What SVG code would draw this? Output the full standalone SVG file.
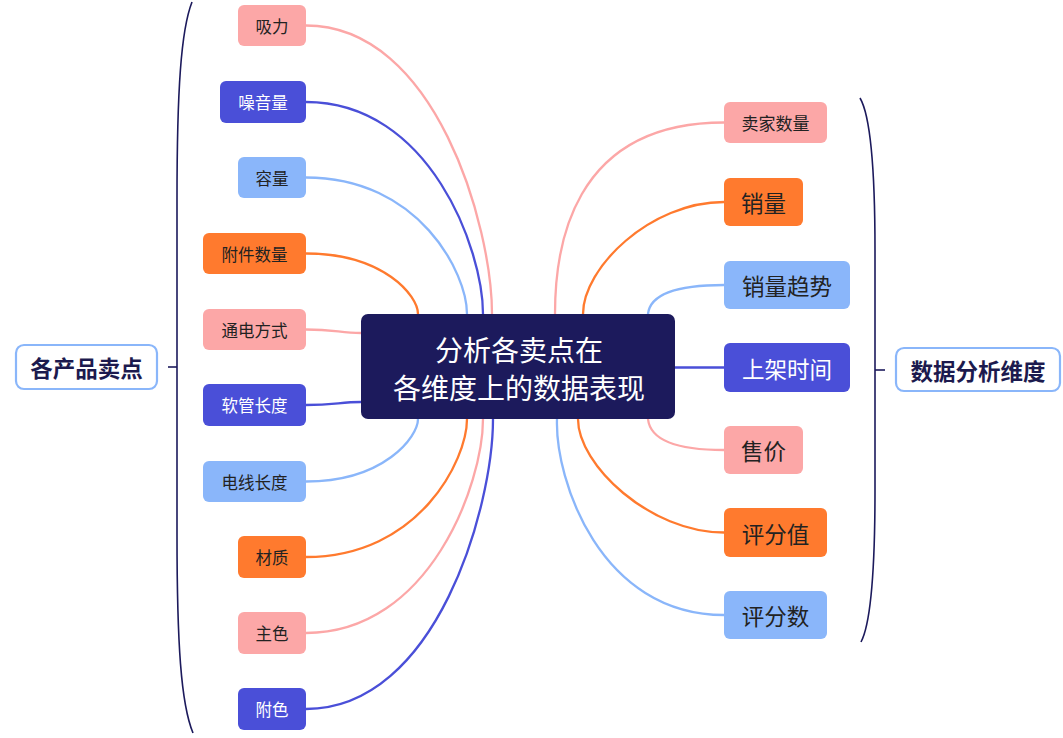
<svg xmlns="http://www.w3.org/2000/svg" width="1063" height="738" viewBox="0 0 1063 738">
<style>
text{font-family:"Noto Sans CJK SC","Noto Sans",sans-serif;text-anchor:middle;dominant-baseline:central}
.pk{fill:#FCA7A7}.db{fill:#4A4FD8}.lb{fill:#8AB6FA}.or{fill:#FF7A2E}
.tl{fill:#222}.tw{fill:#fff}
.s{font-size:16.5px}.m{font-size:22.5px}
.c{fill:none;stroke-width:2.3;stroke-linecap:round}
.cpk{stroke:#FCA7A7}.cdb{stroke:#4A4FD8}.clb{stroke:#8AB6FA}.cor{stroke:#FF7A2E}
.br{fill:none;stroke:#1C1A5C;stroke-width:1.6}
.root{fill:#fff;stroke:#8AB6FA;stroke-width:2.2}
.rt{font-size:22.5px;font-weight:bold;fill:#1C1A4E}
</style>
<rect width="1063" height="738" fill="#fff"/>
<g id="connectors">
<path class="c cpk" d="M306,25.5 C436,25.5 492,227 492,314"/>
<path class="c cdb" d="M306,102 C430,102 483,250 483,314"/>
<path class="c clb" d="M306,177.5 C419,177.5 467,273 467,314"/>
<path class="c cor" d="M306,253.5 C384,253.5 418,296 418,314"/>
<path class="c cpk" d="M306,329.5 C335,329.5 340,333 361,333"/>
<path class="c cdb" d="M306,405 C335,405 340,402 361,402"/>
<path class="c clb" d="M306,481.5 C384,481.5 418,437 418,419"/>
<path class="c cor" d="M306,557 C419,557 467,460 467,419"/>
<path class="c cpk" d="M306,633 C430,633 483,483 483,419"/>
<path class="c cdb" d="M306,709 C437,709 493,506 493,419"/>
<path class="c cpk" d="M724,122.5 C570,122.5 555,250 555,314"/>
<path class="c cor" d="M724,202 C650,202 583,268 583,314"/>
<path class="c clb" d="M724,285 C672,285 650,296 648,314"/>
<path class="c cdb" d="M675,367.5 L724,367.5"/>
<path class="c cpk" d="M724,450 C672,450 650,438 648,419"/>
<path class="c cor" d="M724,532.5 C650,532.5 578,465 578,419"/>
<path class="c clb" d="M724,615 C600,615 555,480 557,419"/>
<path class="br" d="M192,2 C181,30 177,90 177,200 L177,534 C177,644 181,704 193,733"/>
<path class="br" d="M168,367 L177,367"/>
<path class="br" d="M860,98 C870,115 875,160 875,250 L875,490 C875,580 870,625 861,642"/>
<path class="br" d="M875,370 L885,370"/>
</g>
<g id="center">
<rect x="361" y="314" width="314" height="105" rx="7" fill="#1C1A5C"/>
<text x="519" y="349" class="tw" style="font-size:28px">分析各卖点在</text>
<text x="519" y="387" class="tw" style="font-size:28px">各维度上的数据表现</text>
</g>
<g id="root-left">
<rect class="root" x="16" y="345" width="141" height="44" rx="8"/>
<text x="86.5" y="367" class="rt">各产品卖点</text>
</g>
<g id="root-right">
<rect class="root" x="896" y="348" width="164" height="43" rx="8"/>
<text x="978" y="369.5" class="rt">数据分析维度</text>
</g>
<g id="n-xili"><rect class="pk" x="238" y="5" width="68" height="41" rx="6"/><text x="272" y="25.5" class="tl s">吸力</text></g>
<g id="n-zaoyin"><rect class="db" x="220" y="81" width="86" height="42" rx="6"/><text x="263" y="102" class="tw s">噪音量</text></g>
<g id="n-rongliang"><rect class="lb" x="238" y="157" width="68" height="41" rx="6"/><text x="272" y="177.5" class="tl s">容量</text></g>
<g id="n-fujian"><rect class="or" x="203" y="233" width="103" height="41" rx="6"/><text x="254.5" y="253.5" class="tl s">附件数量</text></g>
<g id="n-tongdian"><rect class="pk" x="203" y="309" width="103" height="41" rx="6"/><text x="254.5" y="329.5" class="tl s">通电方式</text></g>
<g id="n-ruanguan"><rect class="db" x="203" y="384" width="103" height="42" rx="6"/><text x="254.5" y="405" class="tw s">软管长度</text></g>
<g id="n-dianxian"><rect class="lb" x="203" y="461" width="103" height="41" rx="6"/><text x="254.5" y="481.5" class="tl s">电线长度</text></g>
<g id="n-caizhi"><rect class="or" x="238" y="536" width="68" height="42" rx="6"/><text x="272" y="557" class="tl s">材质</text></g>
<g id="n-zhuse"><rect class="pk" x="238" y="612" width="68" height="42" rx="6"/><text x="272" y="633" class="tl s">主色</text></g>
<g id="n-fuse"><rect class="db" x="238" y="688" width="68" height="42" rx="6"/><text x="272" y="709" class="tw s">附色</text></g>
<g id="n-maijia"><rect class="pk" x="724" y="102" width="103" height="41" rx="6"/><text x="775.5" y="122.5" class="tl" style="font-size:17px">卖家数量</text></g>
<g id="n-xiaoliang"><rect class="or" x="724" y="178" width="79" height="48" rx="6"/><text x="763.5" y="202" class="tl m">销量</text></g>
<g id="n-qushi"><rect class="lb" x="724" y="261" width="126" height="48" rx="6"/><text x="787" y="285" class="tl m">销量趋势</text></g>
<g id="n-shangjia"><rect class="db" x="724" y="343" width="126" height="49" rx="6"/><text x="787" y="367.5" class="tw m">上架时间</text></g>
<g id="n-shoujia"><rect class="pk" x="724" y="426" width="79" height="48" rx="6"/><text x="763.5" y="450" class="tl m">售价</text></g>
<g id="n-pingfenzhi"><rect class="or" x="724" y="508" width="103" height="49" rx="6"/><text x="775.5" y="532.5" class="tl m">评分值</text></g>
<g id="n-pingfenshu"><rect class="lb" x="724" y="591" width="103" height="48" rx="6"/><text x="775.5" y="615" class="tl m">评分数</text></g>
</svg>
